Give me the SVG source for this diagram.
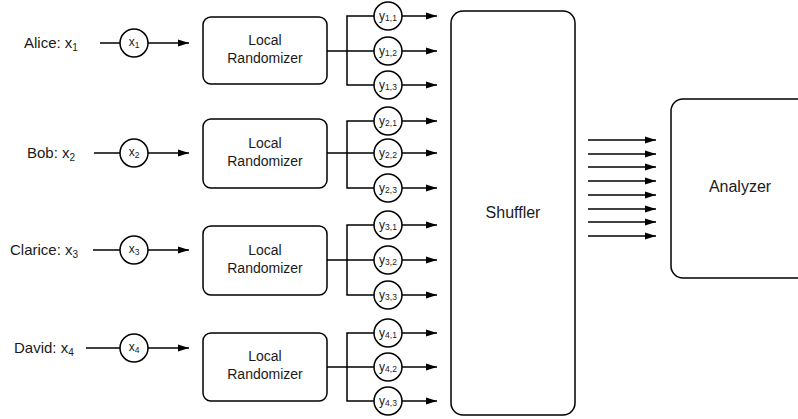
<svg xmlns="http://www.w3.org/2000/svg" width="798" height="419" viewBox="0 0 798 419">
<defs>
<marker id="ah" markerUnits="userSpaceOnUse" markerWidth="12" markerHeight="8" refX="11" refY="4" orient="auto">
<path d="M0,0.5 L11,4 L0,7.5 z" fill="#000"/>
</marker>
<style>
text{font-family:"Liberation Sans",Arial,sans-serif;fill:#1a1a1a}
.lbl{font-size:15px}
.lsub{font-size:10px}
.box{fill:#fff;stroke:#000;stroke-width:1.5}
.c{fill:#fff;stroke:#000;stroke-width:1.5}
.ln{fill:none;stroke:#000;stroke-width:1.5}
.ar{fill:none;stroke:#000;stroke-width:1.5;marker-end:url(#ah)}
.bt{font-size:14px;text-anchor:middle}
.ct{font-size:12px;text-anchor:middle}
.sub{font-size:8.5px}
.big{font-size:16px;text-anchor:middle}
</style>
</defs>

<g id="connectors">
<line class="ln" x1="100" y1="43" x2="120" y2="43"/>
<line class="ar" x1="148" y1="43" x2="189" y2="43"/>
<path class="ln" d="M327,51 H347 M374,16 H347 V85 H374 M347,51 H374"/>
<line class="ar" x1="402" y1="16" x2="437" y2="16"/>
<line class="ar" x1="402" y1="51" x2="437" y2="51"/>
<line class="ar" x1="402" y1="85" x2="437" y2="85"/>
<line class="ln" x1="94" y1="153" x2="120" y2="153"/>
<line class="ar" x1="148" y1="153" x2="189" y2="153"/>
<path class="ln" d="M327,153 H374 M374,121 H347 V188 H374"/>
<line class="ar" x1="402" y1="121" x2="437" y2="121"/>
<line class="ar" x1="402" y1="153" x2="437" y2="153"/>
<line class="ar" x1="402" y1="188" x2="437" y2="188"/>
<line class="ln" x1="93" y1="250" x2="120" y2="250"/>
<line class="ar" x1="148" y1="250" x2="189" y2="250"/>
<path class="ln" d="M327,260 H374 M374,225 H347 V295 H374"/>
<line class="ar" x1="402" y1="225" x2="437" y2="225"/>
<line class="ar" x1="402" y1="260" x2="437" y2="260"/>
<line class="ar" x1="402" y1="295" x2="437" y2="295"/>
<line class="ln" x1="86" y1="348" x2="120" y2="348"/>
<line class="ar" x1="148" y1="348" x2="189" y2="348"/>
<path class="ln" d="M327,367 H374 M374,333 H347 V401 H374"/>
<line class="ar" x1="402" y1="333" x2="437" y2="333"/>
<line class="ar" x1="402" y1="367" x2="437" y2="367"/>
<line class="ar" x1="402" y1="401" x2="437" y2="401"/>
<line class="ar" x1="588" y1="140" x2="656" y2="140"/>
<line class="ar" x1="588" y1="154" x2="656" y2="154"/>
<line class="ar" x1="588" y1="167" x2="656" y2="167"/>
<line class="ar" x1="588" y1="181" x2="656" y2="181"/>
<line class="ar" x1="588" y1="195" x2="656" y2="195"/>
<line class="ar" x1="588" y1="209" x2="656" y2="209"/>
<line class="ar" x1="588" y1="222" x2="656" y2="222"/>
<line class="ar" x1="588" y1="236" x2="656" y2="236"/>
</g>

<g id="alice"><text class="lbl" x="24" y="48">Alice: x<tspan class="lsub" dy="3">1</tspan></text></g>
<g id="bob"><text class="lbl" x="27" y="158">Bob: x<tspan class="lsub" dy="3">2</tspan></text></g>
<g id="clarice"><text class="lbl" x="10" y="255">Clarice: x<tspan class="lsub" dy="3">3</tspan></text></g>
<g id="david"><text class="lbl" x="14" y="353">David: x<tspan class="lsub" dy="3">4</tspan></text></g>

<g id="x1"><circle class="c" cx="134" cy="43" r="14"/><text class="ct" x="134" y="46">x<tspan class="sub" dy="2">1</tspan></text></g>
<g id="x2"><circle class="c" cx="134" cy="153" r="14"/><text class="ct" x="134" y="156">x<tspan class="sub" dy="2">2</tspan></text></g>
<g id="x3"><circle class="c" cx="134" cy="250" r="14"/><text class="ct" x="134" y="253">x<tspan class="sub" dy="2">3</tspan></text></g>
<g id="x4"><circle class="c" cx="134" cy="348" r="14"/><text class="ct" x="134" y="351">x<tspan class="sub" dy="2">4</tspan></text></g>

<g id="lr1"><rect class="box" x="203" y="17" width="124" height="67" rx="8"/><text class="bt" x="265" y="45">Local</text><text class="bt" x="265" y="63">Randomizer</text></g>
<g id="lr2"><rect class="box" x="203" y="119" width="124" height="69" rx="8"/><text class="bt" x="265" y="148">Local</text><text class="bt" x="265" y="166">Randomizer</text></g>
<g id="lr3"><rect class="box" x="203" y="226" width="124" height="69" rx="8"/><text class="bt" x="265" y="255">Local</text><text class="bt" x="265" y="273">Randomizer</text></g>
<g id="lr4"><rect class="box" x="203" y="333" width="124" height="68" rx="8"/><text class="bt" x="265" y="361">Local</text><text class="bt" x="265" y="379">Randomizer</text></g>

<g id="y11"><circle class="c" cx="388" cy="16" r="14"/><text class="ct" x="388" y="20">y<tspan class="sub" dy="1">1,1</tspan></text></g>
<g id="y12"><circle class="c" cx="388" cy="51" r="14"/><text class="ct" x="388" y="55">y<tspan class="sub" dy="1">1,2</tspan></text></g>
<g id="y13"><circle class="c" cx="388" cy="85" r="14"/><text class="ct" x="388" y="89">y<tspan class="sub" dy="1">1,3</tspan></text></g>
<g id="y21"><circle class="c" cx="388" cy="121" r="14"/><text class="ct" x="388" y="125">y<tspan class="sub" dy="1">2,1</tspan></text></g>
<g id="y22"><circle class="c" cx="388" cy="153" r="14"/><text class="ct" x="388" y="157">y<tspan class="sub" dy="1">2,2</tspan></text></g>
<g id="y23"><circle class="c" cx="388" cy="188" r="14"/><text class="ct" x="388" y="192">y<tspan class="sub" dy="1">2,3</tspan></text></g>
<g id="y31"><circle class="c" cx="388" cy="225" r="14"/><text class="ct" x="388" y="229">y<tspan class="sub" dy="1">3,1</tspan></text></g>
<g id="y32"><circle class="c" cx="388" cy="260" r="14"/><text class="ct" x="388" y="264">y<tspan class="sub" dy="1">3,2</tspan></text></g>
<g id="y33"><circle class="c" cx="388" cy="295" r="14"/><text class="ct" x="388" y="299">y<tspan class="sub" dy="1">3,3</tspan></text></g>
<g id="y41"><circle class="c" cx="388" cy="333" r="14"/><text class="ct" x="388" y="337">y<tspan class="sub" dy="1">4,1</tspan></text></g>
<g id="y42"><circle class="c" cx="388" cy="367" r="14"/><text class="ct" x="388" y="371">y<tspan class="sub" dy="1">4,2</tspan></text></g>
<g id="y43"><circle class="c" cx="388" cy="401" r="14"/><text class="ct" x="388" y="405">y<tspan class="sub" dy="1">4,3</tspan></text></g>

<g id="shuffler"><rect class="box" x="451" y="11" width="124" height="404" rx="12"/><text class="big" x="513" y="218">Shuffler</text></g>
<g id="analyzer"><rect class="box" x="671" y="99" width="140" height="179" rx="12"/><text class="big" x="740" y="192">Analyzer</text></g>
</svg>
